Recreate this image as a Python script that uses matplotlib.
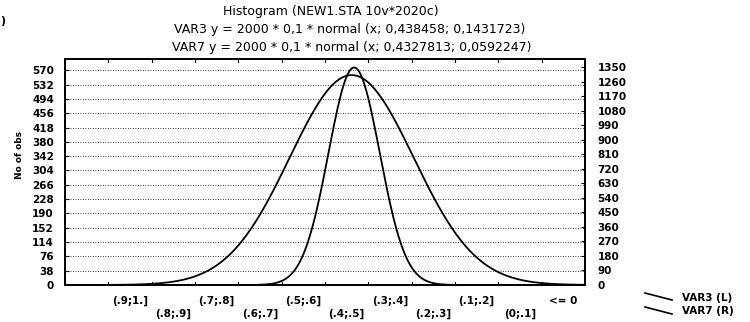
import numpy as np
import matplotlib.pyplot as plt

# histogram categories (left to right, axis runs from 1 down to 0)
categories = ['(.9;1.]', '(.8;.9]', '(.7;.8]', '(.6;.7]', '(.5;.6]', '(.4;.5]',
              '(.3;.4]', '(.2;.3]', '(.1;.2]', '(0;.1]', '<= 0']
cat_centers = [0.95, 0.85, 0.75, 0.65, 0.55, 0.45, 0.35, 0.25, 0.15, 0.05, -0.05]

# fitted normal curves, as stated in the chart title
series = ['VAR3 (L)', 'VAR7 (R)']
n_obs = [2000, 2000]
bin_width = [0.1, 0.1]
means = [0.438458, 0.4327813]
sds = [0.1431723, 0.0592247]

left_ticks = list(range(0, 571, 38))
right_ticks = list(range(0, 1351, 90))

titles = ['Histogram (NEW1.STA 10v*2020c)',
          'VAR3 y = 2000 * 0,1 * normal (x; 0,438458; 0,1431723)',
          'VAR7 y = 2000 * 0,1 * normal (x; 0,4327813; 0,0592247)']

plt.rcParams['font.family'] = ['DejaVu Sans']

fig = plt.figure(figsize=(7.5, 3.22), dpi=100)
ax = fig.add_axes([65 / 750, 37 / 322, 520 / 750, 226 / 322])
ax2 = ax.twinx()


def normal_curve(x, n, w, m, s):
    return n * w * np.exp(-0.5 * ((x - m) / s) ** 2) / (s * np.sqrt(2 * np.pi))


x = np.linspace(1.1, -0.1, 600)
ax.plot(x, normal_curve(x, n_obs[0], bin_width[0], means[0], sds[0]), color='black', lw=1.3)
ax2.plot(x, normal_curve(x, n_obs[1], bin_width[1], means[1], sds[1]), color='black', lw=1.3)

ax.set_xlim(1.1, -0.1)
ax.set_ylim(0, 600)
ax2.set_ylim(0, 1400)

# gridlines at left ticks
for v in left_ticks[1:]:
    ax.axhline(v, color='black', lw=0.6, ls=(0, (1, 2)), zorder=0)

ax.set_yticks(left_ticks)
ax.set_yticklabels([str(v) for v in left_ticks], fontsize=7.5, fontweight='bold')
ax2.set_yticks(right_ticks)
ax2.set_yticklabels([str(v) for v in right_ticks], fontsize=7.5, fontweight='bold')
ax.tick_params(axis='y', direction='in', length=3, pad=8)
ax2.tick_params(axis='y', direction='in', length=3, pad=9)

# x labels in two staggered rows
ax.set_xticks(cat_centers)
ax.set_xticklabels(['' for c in categories])
ax.tick_params(axis='x', length=0)
for i, (c, lab) in enumerate(zip(cat_centers, categories)):
    off = -16 if i % 2 == 0 else -29
    ax.annotate(lab, (c, 0), xycoords=('data', 'axes fraction'), xytext=(0, off),
                textcoords='offset pixels', ha='center', va='center',
                fontsize=7.5, fontweight='bold')

# small boundary ticks top and bottom
bounds = [1.0 - 0.1 * k for k in range(11)]
for b in bounds:
    ax.plot([b, b], [0, 0.012], transform=ax.get_xaxis_transform(), color='black', lw=0.8)
    ax.plot([b, b], [0.988, 1], transform=ax.get_xaxis_transform(), color='black', lw=0.8)

for a in (ax, ax2):
    for sp in a.spines.values():
        sp.set_linewidth(1.3)

fig.text(20 / 750, 1 - 155 / 322, 'No of obs', rotation=90, ha='center', va='center',
         fontsize=6.5, fontweight='bold')

fig.text(331 / 750, 1 - 12 / 322, titles[0], ha='center', va='center', fontsize=9)
fig.text(350 / 750, 1 - 29 / 322, titles[1], ha='center', va='center', fontsize=9)
fig.text(352 / 750, 1 - 47 / 322, titles[2], ha='center', va='center', fontsize=9)
fig.text(0, 1 - 21 / 322, ')', ha='left', va='center', fontsize=8, fontweight='bold')

# legend outside lower right
for k, name in enumerate(series):
    y0 = 1 - (293 + 14 * k) / 322
    y1 = 1 - (300 + 14 * k) / 322
    fig.add_artist(plt.Line2D([645 / 750, 672 / 750], [y0, y1], color='black', lw=1.2))
    fig.text(682 / 750, 1 - (298 + 13 * k) / 322, name, ha='left', va='center',
             fontsize=7.5, fontweight='bold')

fig.savefig('out.png', dpi=100)
